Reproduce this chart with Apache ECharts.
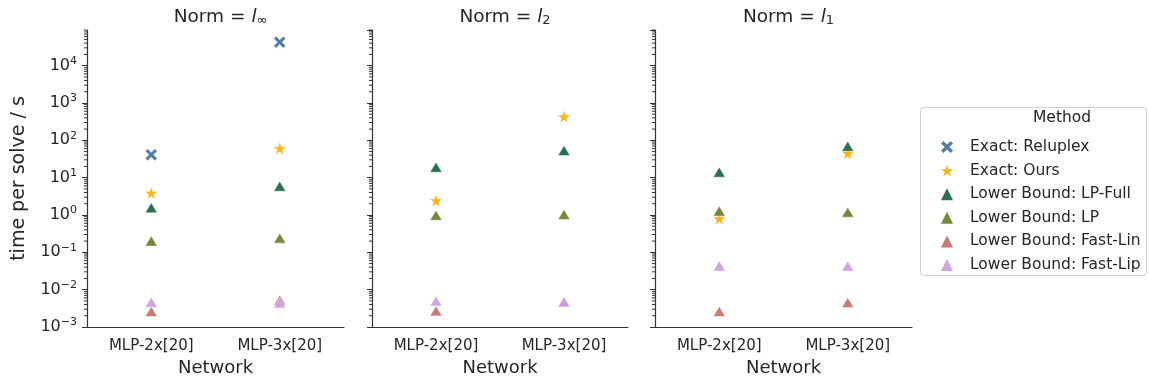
<!DOCTYPE html>
<html><head><meta charset="utf-8">
<script src="https://cdn.jsdelivr.net/npm/echarts@6/dist/echarts.min.js"></script>
<style>html,body{margin:0;padding:0;background:#fff}#c{width:1149px;height:383px}</style>
</head><body><div id="c"></div>
<script>
// ---- data ----
const categories = ['MLP-2x[20]', 'MLP-3x[20]'];
const methods = ['Exact: Reluplex', 'Exact: Ours', 'Lower Bound: LP-Full', 'Lower Bound: LP', 'Lower Bound: Fast-Lin', 'Lower Bound: Fast-Lip'];
const panelTitles = ['∞', '2', '1'];
// values per norm, per method: [MLP-2x[20], MLP-3x[20]]  (null = not run)
const linfReluplex = [41, 42500];
const linfOurs = [3.9, 61];
const linfLPFull = [1.56, 5.9];
const linfLP = [0.2, 0.24];
const linfFastLin = [0.0026, 0.0052];
const linfFastLip = [0.0046, 0.0044];
const l2Reluplex = [null, null];
const l2Ours = [2.45, 434];
const l2LPFull = [19, 53];
const l2LP = [0.98, 1.03];
const l2FastLin = [0.0027, 0.0047];
const l2FastLip = [0.005, 0.0047];
const l1Reluplex = [null, null];
const l1Ours = [0.8, 45];
const l1LPFull = [14, 69];
const l1LP = [1.27, 1.19];
const l1FastLin = [0.0026, 0.0045];
const l1FastLip = [0.043, 0.043];
const yMin = 0.001, yMax = 90000;
const minorTickValues = [];
for (let e = -3; e <= 4; e++) for (let m = 2; m <= 9; m++) { const v = m * Math.pow(10, e); if (v <= yMax) minorTickValues.push(v); }

const panelData = [
  [linfReluplex, linfOurs, linfLPFull, linfLP, linfFastLin, linfFastLip],
  [l2Reluplex, l2Ours, l2LPFull, l2LP, l2FastLin, l2FastLip],
  [l1Reluplex, l1Ours, l1LPFull, l1LP, l1FastLin, l1FastLip]
];

// ---- styling ----
const colors = ['#4b76a0', '#ffb000', '#1d6a47', '#6b8430', '#c8736f', '#cf9fe3'];
function starPath() {
  let d = 'path://';
  for (let i = 0; i < 10; i++) {
    const r = i % 2 === 0 ? 10 : 3.82;
    const a = -Math.PI / 2 + i * Math.PI / 5;
    d += (i === 0 ? 'M' : 'L') + (10 + r * Math.cos(a)).toFixed(2) + ',' + (10 + r * Math.sin(a)).toFixed(2);
  }
  return d + 'Z';
}
const xPath = 'path://M2,0 L5,3 L8,0 L10,2 L7,5 L10,8 L8,10 L5,7 L2,10 L0,8 L3,5 L0,2 Z';
const symbols = [xPath, starPath(), 'triangle', 'triangle', 'triangle', 'triangle'];
const sizes = [[12, 12], [13, 13], [12, 10], [12, 10], [12, 10], [12, 10]];
const FONT = 'DejaVu Sans';
const TXT = '#262626';
const grids = [
  { left: 87, width: 257, top: 30, height: 297 },
  { left: 372, width: 256, top: 30, height: 297 },
  { left: 655, width: 257, top: 30, height: 297 }
];
function expLabel(v) {
  const e = Math.log10(v);
  const r = Math.round(e);
  if (Math.abs(e - r) > 1e-6) return '';
  return '10{sup|' + String(r).replace('-', '−') + '}';
}

const xAxes = [], yAxes = [], series = [], titles = [];
grids.forEach((g, i) => {
  xAxes.push({
    type: 'category', gridIndex: i, data: categories, boundaryGap: true,
    axisLine: { lineStyle: { color: '#333', width: 1.2 } },
    axisTick: { alignWithLabel: true, length: 5, lineStyle: { color: '#333' } },
    axisLabel: { color: TXT, fontFamily: FONT, fontSize: 15, margin: 12 },
    name: 'Network', nameLocation: 'middle', nameGap: 32,
    nameTextStyle: { color: TXT, fontFamily: FONT, fontSize: 18 },
    splitLine: { show: false }
  });
  yAxes.push({
    type: 'log', logBase: 10, gridIndex: i, min: yMin, max: yMax,
    axisLine: { show: true, lineStyle: { color: '#333', width: 1.2 } },
    axisTick: { show: true, length: 5, lineStyle: { color: '#333' } },
    axisLabel: {
      show: i === 0, showMaxLabel: false, margin: 10, color: TXT, fontFamily: FONT, fontSize: 16,
      formatter: expLabel,
      rich: { sup: { fontSize: 11, verticalAlign: 'top', padding: [0, 0, 9, 0], color: TXT, fontFamily: FONT } }
    },
    splitLine: { show: false },
    name: i === 0 ? 'time per solve / s' : '', nameLocation: 'middle', nameGap: 58,
    nameTextStyle: { color: TXT, fontFamily: FONT, fontSize: 19 }
  });
  titles.push({
    text: 'Norm = {it|l}{sub|' + panelTitles[i] + '}',
    left: g.left + g.width / 2, top: 2, textAlign: 'center',
    textStyle: {
      color: TXT, fontFamily: FONT, fontSize: 18.5, fontWeight: 'normal',
      rich: {
        it: { fontStyle: 'italic', fontSize: 18.5, fontFamily: FONT, color: TXT },
        sub: { fontSize: 13, fontFamily: FONT, color: TXT, verticalAlign: 'bottom', padding: [7, 0, 0, 0] }
      }
    }
  });
  // minor ticks (log decades)
  series.push({
    type: 'custom', xAxisIndex: i, yAxisIndex: i, silent: true, clip: false, z: 1,
    data: minorTickValues.map(v => [0, v]),
    renderItem: function (params, api) {
      const y = api.coord([0, api.value(1)])[1];
      const x = params.coordSys.x;
      return { type: 'line', shape: { x1: x - 3, y1: y, x2: x, y2: y }, style: { stroke: '#333', lineWidth: 1 } };
    }
  });
  methods.forEach((m, k) => {
    const vals = panelData[i][k];
    const d = [];
    vals.forEach((v, j) => { if (v != null) d.push([categories[j], v]); });
    series.push({
      type: 'scatter', name: m, xAxisIndex: i, yAxisIndex: i, data: d,
      symbol: symbols[k], symbolSize: sizes[k], z: 2 + k,
      itemStyle: { color: colors[k], borderColor: '#fff', borderWidth: 0.5, opacity: 0.95 }
    });
  });
});

const chart = echarts.init(document.getElementById('c'), null, { renderer: 'canvas' });
chart.setOption({
  animation: false,
  backgroundColor: '#fff',
  title: titles,
  grid: grids,
  xAxis: xAxes,
  yAxis: yAxes,
  legend: {
    data: methods.map((m, k) => ({ name: m, icon: symbols[k], itemStyle: { borderWidth: 0, color: colors[k] } })),
    orient: 'vertical', left: 936, top: 134,
    itemWidth: 12, itemHeight: 12, itemGap: 7.6, symbolKeepAspect: true,
    textStyle: { color: TXT, fontFamily: FONT, fontSize: 15.5, lineHeight: 14, padding: [0, 0, 0, 12] }
  },
  graphic: [
    { type: 'rect', left: 920, top: 107, shape: { width: 226, height: 168, r: 3 }, style: { fill: '#fff', stroke: '#d0d0d0', lineWidth: 1 }, z: -1 },
    { type: 'text', left: 1033, top: 110, style: { text: 'Method', fill: TXT, font: '15.5px "DejaVu Sans"', textAlign: 'center' } }
  ],
  series: series
});
</script></body></html>
